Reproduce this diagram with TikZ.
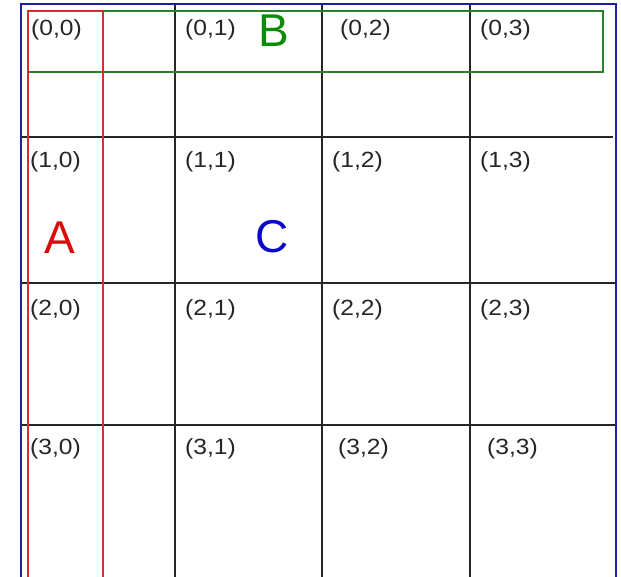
\documentclass[tikz,border=0pt]{standalone}
\usepackage{fontspec}
\setmainfont{Liberation Sans}
\definecolor{frameblue}{RGB}{30,30,160}
\definecolor{rectred}{RGB}{205,50,50}
\definecolor{rectgreen}{RGB}{40,130,40}
\definecolor{letred}{RGB}{220,10,10}
\definecolor{letgreen}{RGB}{10,140,10}
\definecolor{letblue}{RGB}{10,10,200}
\tikzset{
  cell/.style={anchor=base west, inner sep=0pt, xscale=1.12, font=\fontsize{22}{22}\selectfont, text=black!85},
  big/.style={anchor=center, inner sep=0pt, font=\fontsize{46}{46}\selectfont},
  gridline/.style={draw=black!85, line width=1.6pt},
}
\begin{document}
\begin{tikzpicture}[x=1pt,y=-1pt]
\useasboundingbox (0,0) rectangle (621,576);
% grid lines
\draw[gridline] (175,4) -- (175,580);
\draw[gridline] (322,4) -- (322,580);
\draw[gridline] (470,4) -- (470,580);
\draw[gridline] (21,137) -- (613,137);
\draw[gridline] (21,283) -- (616,283);
\draw[gridline] (21,425) -- (616,425);
% rectangles
\draw[rectgreen, line width=1.5pt] (28,11) rectangle (603,72);
\draw[rectred, line width=1.5pt] (28,11) rectangle (103,590);
\draw[frameblue, line width=1.8pt] (21,4) rectangle (616,590);
% labels
\node[cell] (c00) at (31,35) {(0,0)};
\node[cell] (c01) at (185,35) {(0,1)};
\node[cell] (c02) at (340,35) {(0,2)};
\node[cell] (c03) at (480,35) {(0,3)};
\node[cell] (c10) at (30,167) {(1,0)};
\node[cell] (c11) at (185,167) {(1,1)};
\node[cell] (c12) at (332,167) {(1,2)};
\node[cell] (c13) at (480,167) {(1,3)};
\node[cell] (c20) at (30,315) {(2,0)};
\node[cell] (c21) at (185,315) {(2,1)};
\node[cell] (c22) at (332,315) {(2,2)};
\node[cell] (c23) at (480,315) {(2,3)};
\node[cell] (c30) at (30,454) {(3,0)};
\node[cell] (c31) at (185,454) {(3,1)};
\node[cell] (c32) at (338,454) {(3,2)};
\node[cell] (c33) at (487,454) {(3,3)};
% big letters
\node[big, text=letred] (A) at (60,238) {A};
\node[big, text=letgreen] (B) at (274,31) {B};
\node[big, text=letblue] (C) at (272,237) {C};
\end{tikzpicture}
\end{document}
